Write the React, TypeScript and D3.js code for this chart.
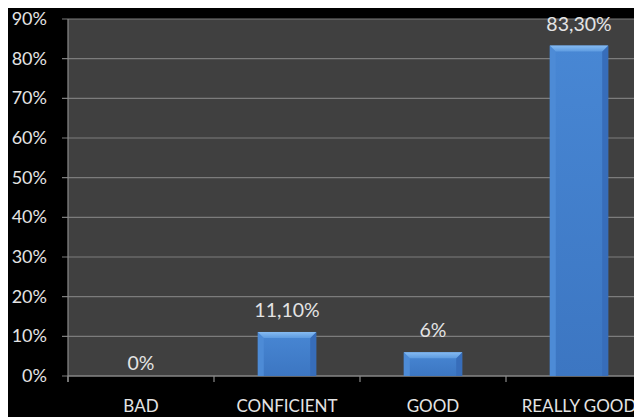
import React from "react";
import * as d3 from "d3";

const categories: string[] = ["BAD", "CONFICIENT", "GOOD", "REALLY GOOD"];
const values: number[] = [0, 11.1, 6, 83.3];
const yTicks: number[] = [0, 10, 20, 30, 40, 50, 60, 70, 80, 90];

const W = 634;
const H = 409;
const plotLeft = 60;
const plotTop = 11;
const plotBottom = 368;
const FONT = "Lato, 'Open Sans', sans-serif";
const TEXT = "#e4e4e4";

const fmtValue = (v: number) =>
  Number.isInteger(v) ? `${v}%` : `${v.toFixed(2).replace(".", ",")}%`;

export default function App() {
  const x = d3
    .scaleBand<string>()
    .domain(categories)
    .range([plotLeft, plotLeft + 584])
    .paddingInner(0.6)
    .paddingOuter(0.3);
  const y = d3.scaleLinear().domain([0, 90]).range([plotBottom, plotTop]);
  const step = x.step();
  const bw = x.bandwidth();
  const b = 6;

  return (
    <svg width={W} height={H} style={{ display: "block", background: "#000" }}>
      <defs>
        <linearGradient id="body" x1="0" y1="0" x2="0" y2="1">
          <stop offset="0" stopColor="#4887d4" />
          <stop offset="1" stopColor="#3c76c2" />
        </linearGradient>
        <linearGradient id="topb" x1="0" y1="0" x2="0" y2="1">
          <stop offset="0" stopColor="#86bbf2" />
          <stop offset="1" stopColor="#5d9be0" />
        </linearGradient>
        <clipPath id="svgclip">
          <rect x={0} y={0} width={W} height={H} />
        </clipPath>
      </defs>
      <rect x={0} y={0} width={W} height={H} fill="#000" />
      <rect
        x={plotLeft}
        y={plotTop}
        width={W - plotLeft}
        height={plotBottom - plotTop}
        fill="#404040"
      />
      {yTicks.map((t) => (
        <g key={t}>
          <line
            x1={plotLeft - 6}
            x2={W}
            y1={y(t)}
            y2={y(t)}
            stroke="#7c7c7c"
            strokeWidth={1.2}
          />
          <text
            x={39}
            y={y(t) + 6}
            textAnchor="end"
            fill={TEXT}
            fontFamily={FONT}
            fontSize={18}
          >
            {t}%
          </text>
        </g>
      ))}
      <line x1={plotLeft} x2={plotLeft} y1={plotTop} y2={plotBottom + 6} stroke="#8a8a8a" strokeWidth={1.2} />
      <line x1={plotLeft} x2={W} y1={plotBottom} y2={plotBottom} stroke="#8a8a8a" strokeWidth={1.2} />
      {categories.map((c, i) => (
        <line
          key={"t" + c}
          x1={plotLeft + i * step}
          x2={plotLeft + i * step}
          y1={plotBottom}
          y2={plotBottom + 6}
          stroke="#8a8a8a"
          strokeWidth={1.2}
        />
      ))}
      <g clipPath="url(#svgclip)">
        {categories.map((c, i) => {
          const v = values[i];
          const x0 = x(c)!;
          const top = y(v);
          const h = plotBottom - top;
          if (h <= 0) return null;
          const bb = Math.min(b, h / 2);
          return (
            <g key={"b" + c}>
              <rect x={x0} y={top} width={bw} height={h} fill="url(#body)" />
              <polygon
                points={`${x0},${top} ${x0 + bb},${top + bb} ${x0 + bb},${plotBottom} ${x0},${plotBottom}`}
                fill="#4d8bd6"
              />
              <polygon
                points={`${x0 + bw},${top} ${x0 + bw - bb},${top + bb} ${x0 + bw - bb},${plotBottom} ${x0 + bw},${plotBottom}`}
                fill="#376dba"
              />
              <polygon
                points={`${x0},${top} ${x0 + bw},${top} ${x0 + bw - bb},${top + bb} ${x0 + bb},${top + bb}`}
                fill="url(#topb)"
              />
            </g>
          );
        })}
      </g>
      {categories.map((c, i) => {
        const v = values[i];
        const cx = x(c)! + bw / 2;
        const ly = v === 0 ? y(0) - 6 : y(v) - 15;
        return (
          <text
            key={"v" + c}
            x={cx}
            y={ly}
            textAnchor="middle"
            fill={TEXT}
            fontFamily={FONT}
            fontSize={19.5}
          >
            {fmtValue(v)}
          </text>
        );
      })}
      {categories.map((c) => (
        <text
          key={"l" + c}
          x={x(c)! + bw / 2}
          y={404}
          textAnchor="middle"
          fill={TEXT}
          fontFamily={FONT}
          fontSize={17}
        >
          {c}
        </text>
      ))}
    </svg>
  );
}
